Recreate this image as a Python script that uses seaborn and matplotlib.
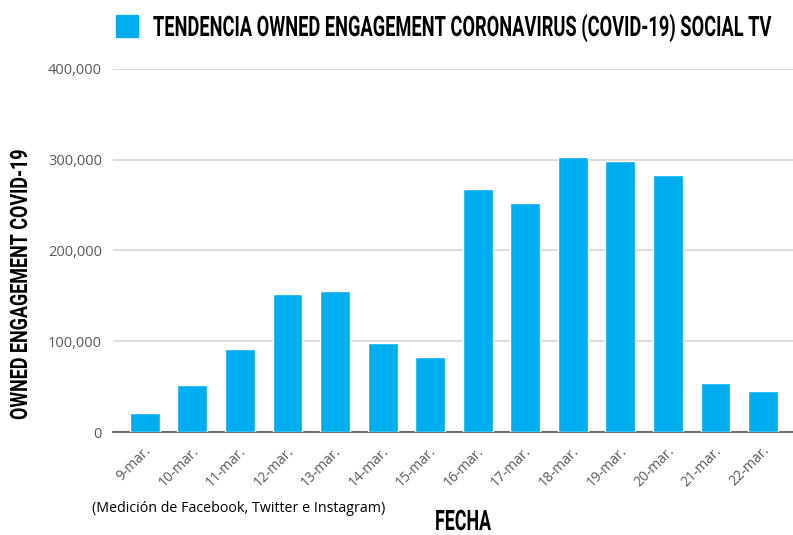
import numpy as np
import pandas as pd
import seaborn as sns
import matplotlib.pyplot as plt
from matplotlib import font_manager as fm
from matplotlib.patheffects import AbstractPathEffect
from matplotlib.textpath import TextPath
from matplotlib.transforms import Affine2D, ScaledTranslation

# datos
fechas = ['9-mar.', '10-mar.', '11-mar.', '12-mar.', '13-mar.', '14-mar.', '15-mar.',
          '16-mar.', '17-mar.', '18-mar.', '19-mar.', '20-mar.', '21-mar.', '22-mar.']
engagement = [21000, 51500, 91500, 152000, 155000, 98500, 82500,
              268000, 252500, 302500, 299000, 283500, 54500, 45500]
yticks = [0, 100000, 200000, 300000, 400000]

df = pd.DataFrame({'fecha': fechas, 'engagement': engagement})

sns.set_theme(style='white')
nombres = {f.name for f in fm.fontManager.ttflist}
titulo_font = 'Roboto' if 'Roboto' in nombres else 'DejaVu Sans'
plt.rcParams['font.family'] = ['Open Sans', 'DejaVu Sans']

azul = '#00AEEF'
gris = '#595959'


class Estirar(AbstractPathEffect):
    # estira el texto en vertical (fuente condensada tipo Bebas)
    def __init__(self, sy):
        super().__init__()
        self.sy = sy

    def draw_path(self, renderer, gc, tpath, affine, rgbFace=None):
        renderer.draw_path(gc, tpath, Affine2D().scale(1, self.sy) + affine, rgbFace)


fig = plt.figure(figsize=(7.93, 5.35), dpi=100)
ax = fig.add_axes([113 / 793, 1 - 432 / 535, 680 / 793, (432 - 69) / 535])

sns.barplot(data=df, x='fecha', y='engagement', color=azul, width=0.63,
            saturation=1, ax=ax, zorder=3)

ax.set_ylim(0, 400000)
ax.set_xlim(-0.67, 13.63)
ax.set_yticks(yticks)
ax.set_yticklabels(['{:,}'.format(v) for v in yticks], color=gris, fontsize=10.5)
ax.yaxis.grid(True, color='#dddddd', linewidth=1.5, zorder=0)
ax.tick_params(axis='y', length=0, pad=8)
ax.tick_params(axis='x', length=0, pad=12)
desplaza = ScaledTranslation(4 / 100, 0, fig.dpi_scale_trans)
for lbl in ax.get_xticklabels():
    lbl.set_rotation(45)
    lbl.set_ha('right')
    lbl.set_va('center')
    lbl.set_rotation_mode('anchor')
    lbl.set_color(gris)
    lbl.set_fontsize(10)
    lbl.set_transform(lbl.get_transform() + desplaza)

for s in ['top', 'right', 'left']:
    ax.spines[s].set_visible(False)
ax.spines['bottom'].set_color('#555555')
ax.spines['bottom'].set_linewidth(1.2)
ax.set_xlabel('')
ax.set_ylabel('')

renderer = fig.canvas.get_renderer()


def texto_condensado(x, y, s, ancho, alto_cap, rot=0):
    # x, y en pixeles desde arriba a la izquierda; base del texto
    t = fig.text(x / 793, 1 - y / 535, s, family=titulo_font, fontweight='bold',
                 fontsize=20, ha='left', va='baseline', color='black')
    w = t.get_window_extent(renderer).width
    t.set_fontsize(t.get_fontsize() * ancho / w)
    cap = TextPath((0, 0), 'H', size=t.get_fontsize(),
                   prop=t.get_fontproperties()).get_extents().height * 100 / 72
    t.set_path_effects([Estirar(alto_cap / cap)])
    if rot:
        t.set_rotation(rot)
        t.set_rotation_mode('anchor')
    return t


# titulo tipo leyenda
fig.patches.append(plt.Rectangle((116 / 793, 1 - 37 / 535), 22 / 793, 22 / 535,
                                 transform=fig.transFigure, color=azul))
texto_condensado(153, 36, 'TENDENCIA OWNED ENGAGEMENT CORONAVIRUS (COVID-19) SOCIAL TV', 617, 20)
texto_condensado(27, 420, 'OWNED ENGAGEMENT COVID-19', 270, 17, rot=90)
texto_condensado(435, 530, 'FECHA', 56, 20)

fig.text(92 / 793, 1 - 509 / 535, '(Medición de Facebook, Twitter e Instagram)',
         fontsize=10.3, va='center', ha='left', color='black')

fig.savefig('out.png', dpi=100)
